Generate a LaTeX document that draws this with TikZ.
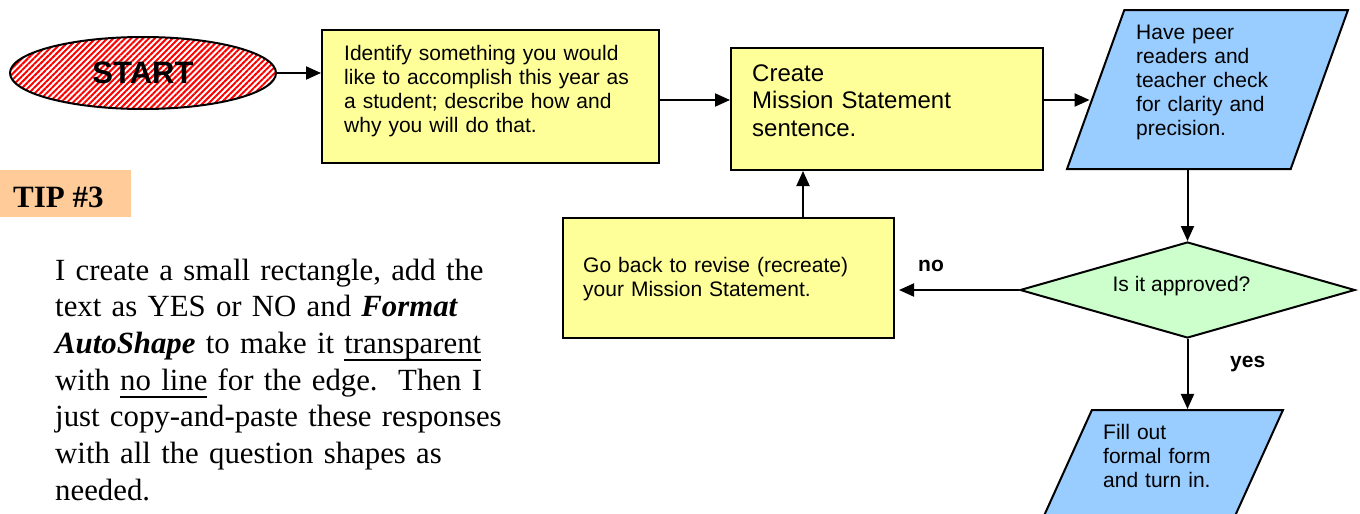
\documentclass[tikz,border=0pt]{standalone}
\usepackage{fontspec}
\setmainfont{Liberation Serif}
\newfontfamily\arial{Liberation Sans}
\usetikzlibrary{shapes.geometric,arrows.meta,patterns.meta}
\definecolor{boxyellow}{HTML}{FFFF99}
\definecolor{boxblue}{HTML}{99CCFF}
\definecolor{boxgreen}{HTML}{CCFFCC}
\definecolor{tippeach}{HTML}{FFCC99}
\newcommand{\undl}[1]{\setbox0\hbox{#1}\rlap{\raisebox{-8pt}{\rule{\wd0}{2pt}}}\box0\relax}
\begin{document}
\begin{tikzpicture}[x=1pt,y=-1pt,
  shapeline/.style={draw=black,line width=2pt,inner sep=1pt},
  box/.style={shapeline,rectangle,fill=boxyellow},
  para/.style={shapeline,trapezium,trapezium stretches=true,fill=boxblue},
  startnode/.style={shapeline,ellipse,pattern={Lines[angle=45,distance=4.2pt,line width=2pt]},pattern color=red,
    font=\arial\bfseries\fontsize{31pt}{31pt}\selectfont},
  decision/.style={shapeline,diamond,fill=boxgreen},
  txt/.style={inner sep=0pt,anchor=base west,align=left,text width=#1},
  txt/.default=320pt,
  small/.style={font=\arial\fontsize{21pt}{24pt}\selectfont},
  big/.style={font=\arial\fontsize{24pt}{27.5pt}\selectfont},
  lbl/.style={inner sep=0pt,anchor=base west,font=\arial\bfseries\fontsize{21pt}{24pt}\selectfont},
  arr/.style={line width=2pt,-{Triangle[length=15pt,width=13pt]}}
]
\clip (0,0) rectangle (1360,514);

% start
\node[startnode,minimum width=266pt,minimum height=72pt] (start) at (143,73) {START};

% boxes
\node[box,minimum width=337pt,minimum height=133pt] (b1) at (490.5,96.5) {};
\node[txt,small] (t1) at (344,60) {Identify something you would\\like to accomplish this year as\\a student; describe how and\\why you will do that.};

\node[box,minimum width=312pt,minimum height=122pt] (b2) at (887,109) {};
\node[txt,big] (t2) at (752,81) {Create\\Mission Statement\\sentence.};

\node[para,minimum width=281pt,minimum height=159pt,trapezium left angle=71,trapezium right angle=109] (p1) at (1207.5,89.5) {};
\node[txt=200pt,small] (t3) at (1136,39) {Have peer\\readers and\\teacher check\\for clarity and\\precision.};

\node[decision,minimum width=335pt,minimum height=96pt] (d) at (1187.5,290) {};
\node[inner sep=0pt,anchor=base,small] (dt) at (1181.5,291) {Is it approved?};

\node[box,minimum width=331pt,minimum height=120pt] (b3) at (728.5,278) {};
\node[txt,font=\arial\fontsize{21pt}{24.5pt}\selectfont] (t4) at (583,272) {Go back to revise (recreate)\\your Mission Statement.};

\node[para,minimum width=250pt,minimum height=130pt,trapezium left angle=66,trapezium right angle=114] (p2) at (1158,475) {};
\node[txt=180pt,small] (t5) at (1103,439) {Fill out\\formal form\\and turn in.};

% labels
\node[lbl] (no) at (918,271) {no};
\node[lbl] (yes) at (1230,367) {yes};

% tip
\node[fill=tippeach,inner sep=0pt,minimum width=131pt,minimum height=47pt,anchor=north west] (tip) at (0,170) {};
\node[inner sep=0pt,anchor=base west,font=\bfseries\fontsize{31pt}{31pt}\selectfont] (tipt) at (13,207) {TIP \#3};

\node[txt=500pt,font=\fontsize{30.8pt}{36.7pt}\selectfont] (body) at (55,280) {I create a small rectangle, add the\\
text as YES or NO and \textbf{\textit{Format}}\\
\textbf{\textit{AutoShape}} to make it \undl{transparent}\\
with \undl{no line} for the edge.\ \ Then I\\
just copy-and-paste these responses\\
with all the question shapes as\\
needed.};

% connectors
\coordinate (row) at (0,100);
\coordinate (col) at (803,0);
\draw[arr] (start.east) -- (start.east -| b1.west);
\draw[arr] (b1.east |- row) -- (b2.west |- row);
\draw[arr,shorten >=5pt] (b2.east |- row) -- (p1.west |- row);
\draw[arr] (d.north |- p1.south) -- (d.north);
\draw[arr,shorten >=4pt] (d.west) -- (d.west -| b3.east);
\draw[arr] (b3.north -| col) -- (b2.south -| col);
\draw[arr] (d.south) -- (d.south |- p2.north);
\end{tikzpicture}
\end{document}
